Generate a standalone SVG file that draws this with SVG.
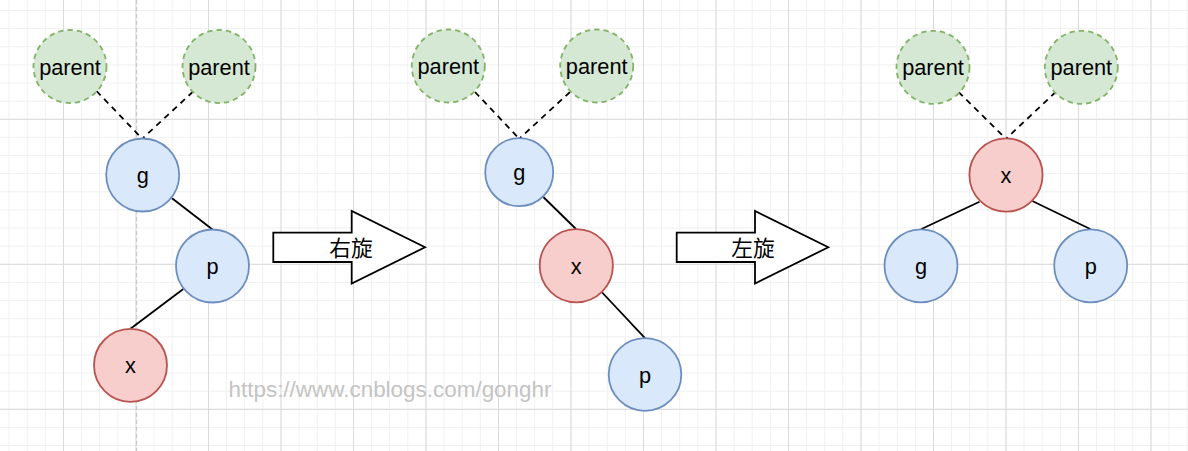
<svg xmlns="http://www.w3.org/2000/svg" width="1188" height="451" viewBox="0 0 1188 451">
<style>
.lbl{font-family:"Liberation Sans","Noto Sans CJK SC",Arial,sans-serif;font-size:21.75px;fill:#000;text-anchor:middle}
.blue{fill:#dae8fc;stroke:#6c8ebf;stroke-width:1.8}
.red{fill:#f8cecc;stroke:#b85450;stroke-width:1.8}
.green{fill:#d5e8d4;stroke:#82b366;stroke-width:1.8;stroke-dasharray:5.4 4}
.edge{stroke:#000;stroke-width:1.8;fill:none}
.dash{stroke-dasharray:6 5}
.blk{fill:#fff;stroke:#000;stroke-width:1.8;stroke-linejoin:miter}
.wm{font-family:"Liberation Sans",Arial,sans-serif;font-size:22px;fill:#c4c4c4}
</style>
<defs>
<pattern id="minor" patternUnits="userSpaceOnUse" x="8.6" y="10.05" width="18.125" height="18.125">
<rect x="0" y="0" width="1" height="18.125" fill="#f0f0f0"/>
<rect x="0" y="0" width="18.125" height="1" fill="#f0f0f0"/>
</pattern>
<pattern id="majorV" patternUnits="userSpaceOnUse" x="63" y="0" width="72.5" height="451">
<rect x="0" y="0" width="1" height="451" fill="#dadada"/>
</pattern>
<pattern id="majorH" patternUnits="userSpaceOnUse" x="0" y="118.8" width="1188" height="145">
<rect x="0" y="0" width="1188" height="1" fill="#dadada"/>
</pattern>
</defs>
<g id="background">
<rect width="1188" height="451" fill="#fff"/>
<rect width="1188" height="451" fill="url(#minor)"/>
<rect width="1188" height="451" fill="url(#majorV)"/>
<rect width="1188" height="451" fill="url(#majorH)"/>
<line x1="136.5" y1="0" x2="136.5" y2="451" stroke="#c8c8c8" stroke-width="1.2" stroke-dasharray="4 3"/>
</g>
<g id="connectors">
<path class="edge dash" d="M96.5 91 L141.5 138"/>
<path class="edge dash" d="M193 91.7 L143 138"/>
<path class="edge" d="M172 198.3 L212.5 229.5"/>
<path class="edge" d="M183.3 289 L130.5 328.7"/>
<path class="edge dash" d="M475 92 L518.5 138"/>
<path class="edge dash" d="M570 92 L520 138"/>
<path class="edge" d="M543.3 197 L576 229"/>
<path class="edge" d="M601.7 292 L645 338.2"/>
<path class="edge dash" d="M958.5 92 L1005.5 138.3"/>
<path class="edge dash" d="M1055.7 92 L1006.5 138.3"/>
<path class="edge" d="M979.5 201.7 L921 229.3"/>
<path class="edge" d="M1032.3 201 L1090.7 229.3"/>
</g>
<g id="left-parent1"><circle class="green" cx="70" cy="66.5" r="36.5"/><text class="lbl" x="70" y="74.5">parent</text></g>
<g id="left-parent2"><circle class="green" cx="219" cy="66.5" r="36.5"/><text class="lbl" x="219" y="74.5">parent</text></g>
<g id="left-g"><circle class="blue" cx="142.7" cy="175" r="36.5"/><text class="lbl" x="142.7" y="183">g</text></g>
<g id="left-p"><circle class="blue" cx="212.5" cy="266" r="36.5"/><text class="lbl" x="212.5" y="274">p</text></g>
<g id="left-x"><circle class="red" cx="130.5" cy="365.3" r="36.5"/><text class="lbl" x="130.5" y="373.3">x</text></g>
<g id="arrow-right-rotate"><polygon class="blk" points="273.3,232.7 351.7,232.7 351.7,211 425,247.3 351.7,283.5 351.7,262 273.3,262"/><text class="lbl" x="351" y="256">右旋</text></g>
<g id="mid-parent1"><circle class="green" cx="448.3" cy="66" r="36.5"/><text class="lbl" x="448.3" y="74">parent</text></g>
<g id="mid-parent2"><circle class="green" cx="596.7" cy="66" r="36.5"/><text class="lbl" x="596.7" y="74">parent</text></g>
<g id="mid-g"><circle class="blue" cx="519.2" cy="172.2" r="34"/><text class="lbl" x="519.2" y="180.2">g</text></g>
<g id="mid-x"><circle class="red" cx="576.3" cy="265.7" r="36.6"/><text class="lbl" x="576.3" y="273.7">x</text></g>
<g id="mid-p"><circle class="blue" cx="645" cy="374.5" r="36.3"/><text class="lbl" x="645" y="382.5">p</text></g>
<g id="arrow-left-rotate"><polygon class="blk" points="676.7,232.7 755,232.7 755,211 828.3,247.3 755,283.5 755,262 676.7,262"/><text class="lbl" x="753" y="256">左旋</text></g>
<g id="right-parent1"><circle class="green" cx="933" cy="67.3" r="36.5"/><text class="lbl" x="933" y="75.3">parent</text></g>
<g id="right-parent2"><circle class="green" cx="1081.3" cy="67.3" r="36.5"/><text class="lbl" x="1081.3" y="75.3">parent</text></g>
<g id="right-x"><circle class="red" cx="1006" cy="175" r="36.6"/><text class="lbl" x="1006" y="183">x</text></g>
<g id="right-g"><circle class="blue" cx="921" cy="265.8" r="36.5"/><text class="lbl" x="921" y="273.8">g</text></g>
<g id="right-p"><circle class="blue" cx="1090.7" cy="265.8" r="36.5"/><text class="lbl" x="1090.7" y="273.8">p</text></g>
<text class="wm" x="228.5" y="396.7" textLength="323" lengthAdjust="spacingAndGlyphs">https://www.cnblogs.com/gonghr</text>
</svg>
